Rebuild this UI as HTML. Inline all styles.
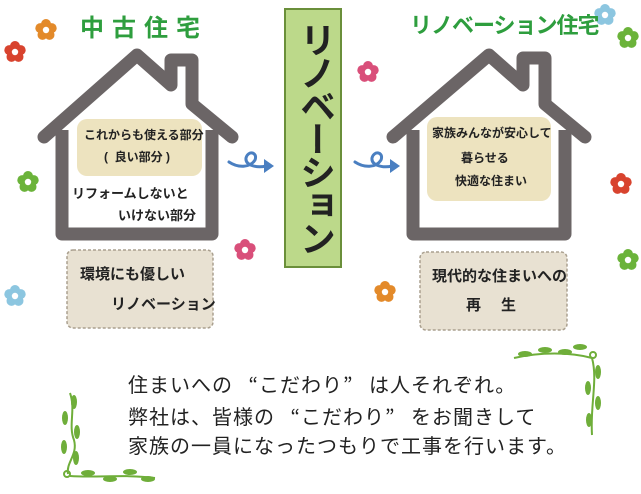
<!DOCTYPE html>
<html><head><meta charset="utf-8"><style>
body{margin:0;width:641px;height:494px;background:#fff;overflow:hidden;font-family:"Liberation Sans","Noto Sans CJK JP",sans-serif}
svg{position:absolute;left:0;top:0}
.t{position:absolute;font-weight:bold;color:#222;white-space:nowrap}
.q{font-family:"Noto Sans CJK JP",sans-serif;display:inline-block;width:26px}
.ql{text-align:right}
</style></head><body>
<svg width="641" height="494" viewBox="0 0 641 494">
<defs>
<g id="fl"><circle cx="0" cy="-6" r="5"/><circle cx="5.7" cy="-1.9" r="5"/><circle cx="3.5" cy="4.9" r="5"/><circle cx="-3.5" cy="4.9" r="5"/><circle cx="-5.7" cy="-1.9" r="5"/><circle cx="0" cy="0" r="3.2" fill="#fff"/></g>
</defs>
<path d="M44,137 L137,55 L171,85 L171,60 L192,60 L192,104 L232,137" fill="none" stroke="#6b6566" stroke-width="13" stroke-linejoin="round" stroke-linecap="round"/>
<path d="M62,130 L62,234 L212,234 L212,130" fill="none" stroke="#6b6566" stroke-width="13" stroke-linejoin="round"/>
<rect x="77" y="119" width="125" height="57" rx="10" fill="#ede3bf"/>
<rect x="67" y="250" width="146" height="78" rx="6" fill="#e8e1d2" stroke="#aaa08f" stroke-width="1.5" stroke-dasharray="3,2"/>
<path d="M393,137 L489,55 L523,85 L523,58 L545,58 L545,104 L585,137" fill="none" stroke="#6b6566" stroke-width="13" stroke-linejoin="round" stroke-linecap="round"/>
<path d="M413,130 L413,234 L565,234 L565,130" fill="none" stroke="#6b6566" stroke-width="13" stroke-linejoin="round"/>
<rect x="427" y="117" width="124" height="84" rx="10" fill="#ede3bf"/>
<rect x="420" y="252" width="147" height="78" rx="6" fill="#e8e1d2" stroke="#aaa08f" stroke-width="1.5" stroke-dasharray="3,2"/>
<rect x="285" y="9" width="56" height="258" fill="#bcd98a" stroke="#6a8f3a" stroke-width="2"/>
<g fill="none" stroke="#4a7fc1" stroke-width="3" stroke-linecap="round">
<path d="M229,162 C238,168 250,168 255,160 C258,152 248,150 246,158 C245,166 258,168 266,166"/>
<path d="M355,162 C364,168 376,168 381,160 C384,152 374,150 372,158 C371,166 384,168 392,166"/>
</g>
<path d="M264,159 L274,166 L264,173Z" fill="#4a7fc1"/>
<path d="M390,159 L400,166 L390,173Z" fill="#4a7fc1"/>
<use href="#fl" x="46" y="30" fill="#e38a2a"/>
<use href="#fl" x="15" y="52" fill="#d8432e"/>
<use href="#fl" x="28" y="182" fill="#6bb33a"/>
<use href="#fl" x="15" y="296" fill="#8cc6e0"/>
<use href="#fl" x="245" y="250" fill="#d94f7a"/>
<use href="#fl" x="368" y="72" fill="#d94f7a"/>
<use href="#fl" x="605" y="15" fill="#8cc6e0"/>
<use href="#fl" x="628" y="38" fill="#6bb33a"/>
<use href="#fl" x="621" y="184" fill="#d8432e"/>
<use href="#fl" x="628" y="260" fill="#6bb33a"/>
<use href="#fl" x="385" y="292" fill="#e38a2a"/>
<g fill="none" stroke="#6fae3a" stroke-width="2">
<path d="M70,393 C76,410 68,425 74,440 C78,455 66,462 68,474"/>
<circle cx="67" cy="474" r="3"/>
<path d="M70,476 C95,478 125,474 155,478"/>
<path d="M514,358 C540,352 570,352 592,358 C598,380 590,405 592,435"/>
<circle cx="593" cy="355" r="3"/>
</g>
<g fill="#6fae3a">
<ellipse cx="74" cy="402" rx="3" ry="7"/><ellipse cx="65" cy="418" rx="3" ry="7"/><ellipse cx="77" cy="432" rx="3" ry="7"/><ellipse cx="64" cy="447" rx="3" ry="7"/><ellipse cx="76" cy="458" rx="3" ry="7"/>
<ellipse cx="88" cy="473" rx="7" ry="3"/><ellipse cx="110" cy="479" rx="7" ry="3"/><ellipse cx="130" cy="472" rx="7" ry="3"/><ellipse cx="148" cy="479" rx="7" ry="3"/>
<ellipse cx="525" cy="354" rx="7" ry="3"/><ellipse cx="545" cy="350" rx="7" ry="3"/><ellipse cx="565" cy="352" rx="7" ry="3"/><ellipse cx="580" cy="347" rx="7" ry="3"/>
<ellipse cx="598" cy="372" rx="3" ry="7"/><ellipse cx="588" cy="388" rx="3" ry="7"/><ellipse cx="598" cy="403" rx="3" ry="7"/><ellipse cx="589" cy="420" rx="3" ry="7"/>
</g>
</svg>
<div class="t" style="left:80px;top:8px;font-size:24px;color:#2e9e3e;letter-spacing:8px">中古住宅</div>
<div class="t" style="left:410px;top:8px;font-size:22px;color:#2e9e3e;letter-spacing:-1px">リノベーション住宅</div>
<div class="t" style="left:293px;top:22px;font-size:36px;line-height:36px;width:40px;writing-mode:vertical-rl;letter-spacing:-3px">リノベーション</div>
<div class="t" style="left:84px;top:126px;font-size:12px">これからも使える部分</div>
<div class="t" style="left:104px;top:148px;font-size:12px">(&nbsp;&nbsp;良い部分&nbsp;)</div>
<div class="t" style="left:72px;top:183px;font-size:13px">リフォームしないと</div>
<div class="t" style="left:118px;top:205px;font-size:13px">いけない部分</div>
<div class="t" style="left:80px;top:263px;font-size:15px">環境にも優しい</div>
<div class="t" style="left:111px;top:293px;font-size:15px">リノベーション</div>
<div class="t" style="left:432px;top:124px;font-size:12px">家族みんなが安心して</div>
<div class="t" style="left:461px;top:149px;font-size:12px">暮らせる</div>
<div class="t" style="left:455px;top:172px;font-size:12px">快適な住まい</div>
<div class="t" style="left:432px;top:265px;font-size:15px">現代的な住まいへの</div>
<div class="t" style="left:466px;top:294px;font-size:15px;letter-spacing:20px">再生</div>
<div class="t" style="left:128px;top:369px;font-size:20px;letter-spacing:1px;line-height:29px;font-weight:normal;color:#222">住まいへの<span class="q ql">“</span>こだわり<span class="q">”</span>は人それぞれ。<br>弊社は、皆様の<span class="q ql">“</span>こだわり<span class="q">”</span>をお聞きして<br>家族の一員になったつもりで工事を行います。</div>
</body></html>
